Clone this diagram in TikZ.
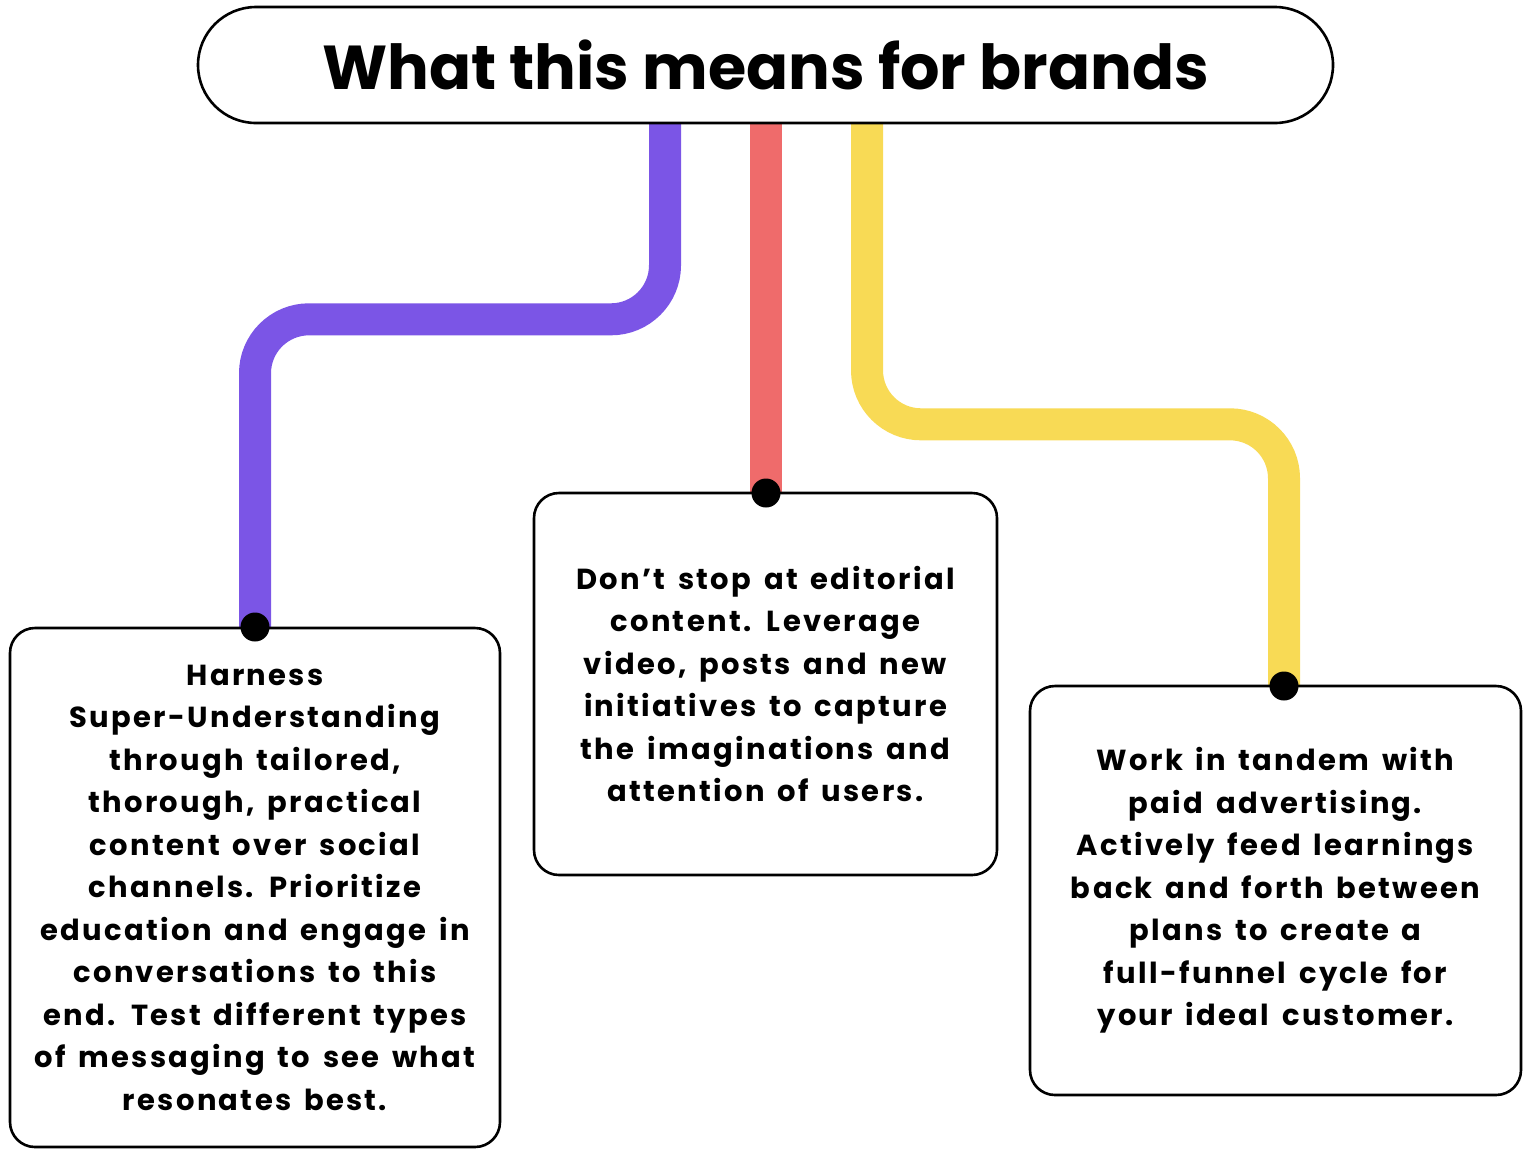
\documentclass[tikz,border=0pt]{standalone}
\usepackage{fontspec}
\setmainfont{Poppins}
\newfontfamily\bodyfont[LetterSpace=8,WordSpace=1.5]{Poppins}
\usetikzlibrary{backgrounds}
\definecolor{cpurple}{HTML}{7B55E6}
\definecolor{cred}{HTML}{EF6B6B}
\definecolor{cyellow}{HTML}{F8DA55}
\tikzset{
  box/.style={draw=black,line width=1.3pt,fill=white,rounded corners=12.5pt,align=center,
    font=\bodyfont\fontsize{14.5pt}{21.25pt}\selectfont\bfseries,inner sep=0pt},
  titlebox/.style={draw=black,line width=1.3pt,fill=white,rounded corners=29pt,
    minimum width=567.5pt,minimum height=58pt,font=\fontsize{31pt}{36pt}\selectfont\bfseries,inner sep=0pt},
  dotnode/.style={circle,fill=black,minimum size=14.5pt,inner sep=0pt},
  conn/.style={line width=16pt,rounded corners=27pt}
}
\begin{document}
\begin{tikzpicture}[x=0.5pt,y=-0.5pt]
\useasboundingbox (0,0) rectangle (1530,1158);
\node[titlebox] (title) at (765.5,65) {What this means for brands};
\node[box,minimum width=245pt,minimum height=259.5pt] (left) at (255,887.5) {Harness\\Super-Understanding\\through tailored,\\thorough, practical\\content over social\\channels. Prioritize\\education and engage in\\conversations to this\\end. Test different types\\of messaging to see what\\resonates best.};
\node[box,minimum width=231.5pt,minimum height=191pt] (mid) at (765.5,684) {Don’t stop at editorial\\content. Leverage\\video, posts and new\\initiatives to capture\\the imaginations and\\attention of users.};
\node[box,minimum width=245.5pt,minimum height=204.5pt] (right) at (1275.5,890.5) {Work in tandem with\\paid advertising.\\Actively feed learnings\\back and forth between\\plans to create a\\full-funnel cycle for\\your ideal customer.};
\node[dotnode] (pdot) at (255,627) {};
\node[dotnode] (rdot) at (766,493) {};
\node[dotnode] (ydot) at (1284,686) {};
\begin{pgfonlayer}{background}
\draw[conn,cpurple] ([xshift=-50.25pt,yshift=10pt]title.south) -- ++(0,215) -| (pdot.center);
\draw[conn,cred] ([xshift=0.25pt,yshift=10pt]title.south) -- (rdot.center);
\draw[conn,cyellow] ([xshift=50.75pt,yshift=10pt]title.south) -- ++(0,320) -| (ydot.center);
\end{pgfonlayer}
\end{tikzpicture}
\end{document}
